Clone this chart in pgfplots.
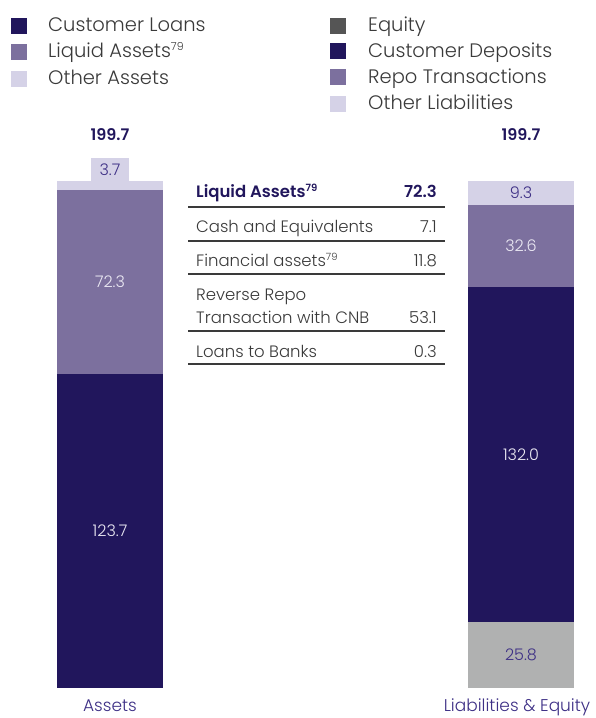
\documentclass[border=0pt]{standalone}
\usepackage{fontspec}
\setmainfont{Poppins}[UprightFont=* Light, BoldFont=* SemiBold]
\usepackage{pgfplots}
\pgfplotsset{compat=1.18}
\definecolor{navy}{HTML}{21165C}
\definecolor{medp}{HTML}{7C709E}
\definecolor{lite}{HTML}{D5D2E7}
\definecolor{grayb}{HTML}{B0B1B1}
\definecolor{eqc}{HTML}{555555}
\definecolor{txt}{HTML}{3A3A3A}
\definecolor{lab}{HTML}{3D2F85}
\definecolor{wl}{HTML}{ECEAF4}
\begin{document}
\begin{tikzpicture}[x=1pt,y=1pt]
\useasboundingbox (0,0) rectangle (596,718);
\begin{axis}[at={(0pt,30pt)},anchor=south west,
  width=596pt,height=507pt,scale only axis,
  xmin=0,xmax=596,ymin=0,ymax=199.7,
  hide axis,clip=false,
  ybar stacked,bar width=106pt,
  every axis plot/.append style={draw=none}]
\addplot[fill=navy]  coordinates {(110,123.7) (521,0)};
\addplot[fill=grayb] coordinates {(110,0) (521,25.8)};
\addplot[fill=medp]  coordinates {(110,72.3) (521,0)};
\addplot[fill=navy]  coordinates {(110,0) (521,132.0)};
\addplot[fill=lite]  coordinates {(110,3.7) (521,0)};
\addplot[fill=medp]  coordinates {(110,0) (521,32.6)};
\addplot[fill=lite]  coordinates {(110,0) (521,9.3)};
\coordinate (a1) at (axis cs:110,61.85);
\coordinate (a2) at (axis cs:110,159.85);
\coordinate (a3) at (axis cs:110,199.7);
\coordinate (b1) at (axis cs:521,12.9);
\coordinate (b2) at (axis cs:521,91.8);
\coordinate (b3) at (axis cs:521,174.1);
\coordinate (b4) at (axis cs:521,195.05);
\end{axis}
% value labels
\begin{scope}[font=\fontsize{16}{16}\selectfont]
\node[text=wl] at (a1) {123.7};
\node[text=wl] at (a2) {72.3};
\node[fill=lite,text=lab,anchor=south,minimum width=38pt,minimum height=23pt,inner sep=0pt] at (a3) {3.7};
\node[text=lab] at (b1) {25.8};
\node[text=wl] at (b2) {132.0};
\node[text=wl] at (b3) {32.6};
\node[text=lab] at (b4) {9.3};
\end{scope}
% totals
\node[anchor=base,text=navy,font=\fontsize{16}{16}\selectfont\bfseries] at (110,577) {199.7};
\node[anchor=base,text=navy,font=\fontsize{16}{16}\selectfont\bfseries] at (521,577) {199.7};
% category labels
\node[anchor=base,text=lab,font=\fontsize{17}{17}\selectfont,inner sep=0pt] at (110,6) {Assets};
\node[anchor=base,text=lab,font=\fontsize{17}{17}\selectfont,inner sep=0pt] at (517,6) {Liabilities \& Equity};
% legend
\begin{scope}[font=\fontsize{19.5}{19.5}\selectfont]
\fill[navy] (11,684) rectangle (27,700);
\node[anchor=base west,text=txt,inner sep=0pt] at (48,686) {Customer Loans};
\fill[medp] (11,658) rectangle (27,674);
\node[anchor=base west,text=txt,inner sep=0pt] at (48,660) {Liquid Assets\textsuperscript{\fontsize{11}{11}\selectfont 79}};
\fill[lite] (11,631) rectangle (27,647);
\node[anchor=base west,text=txt,inner sep=0pt] at (48,633) {Other Assets};
\fill[eqc] (330,684) rectangle (346,700);
\node[anchor=base west,text=txt,inner sep=0pt] at (368,686) {Equity};
\fill[navy] (330,659) rectangle (346,675);
\node[anchor=base west,text=txt,inner sep=0pt] at (368,660.5) {Customer Deposits};
\fill[medp] (330,633) rectangle (346,649);
\node[anchor=base west,text=txt,inner sep=0pt] at (368,634.5) {Repo Transactions};
\fill[lite] (330,606) rectangle (346,622);
\node[anchor=base west,text=txt,inner sep=0pt] at (368,608) {Other Liabilities};
\end{scope}
% table
\begin{scope}[font=\fontsize{16.5}{16.5}\selectfont]
\node[anchor=base west,inner sep=0pt,text=navy,font=\fontsize{16.5}{16.5}\selectfont\bfseries] at (196,520) {Liquid Assets\textsuperscript{\fontsize{10}{10}\selectfont 79}};
\node[anchor=base east,inner sep=0pt,text=navy,font=\fontsize{16.5}{16.5}\selectfont\bfseries] at (437,520) {72.3};
\node[anchor=base west,inner sep=0pt,text=txt] at (196,485) {Cash and Equivalents};
\node[anchor=base east,inner sep=0pt,text=txt] at (437,485) {7.1};
\node[anchor=base west,inner sep=0pt,text=txt] at (196,451) {Financial assets\textsuperscript{\fontsize{10}{10}\selectfont 79}};
\node[anchor=base east,inner sep=0pt,text=txt] at (437,451) {11.8};
\node[anchor=base west,inner sep=0pt,text=txt] at (196,417) {Reverse Repo};
\node[anchor=base west,inner sep=0pt,text=txt] at (196,394) {Transaction with CNB};
\node[anchor=base east,inner sep=0pt,text=txt] at (437,394) {53.1};
\node[anchor=base west,inner sep=0pt,text=txt] at (196,360) {Loans to Banks};
\node[anchor=base east,inner sep=0pt,text=txt] at (437,360) {0.3};
\foreach \yy in {511,477,444,387,354} \draw[line width=1.2pt,color=txt] (188,\yy) -- (445,\yy);
\end{scope}
\end{tikzpicture}
\end{document}
